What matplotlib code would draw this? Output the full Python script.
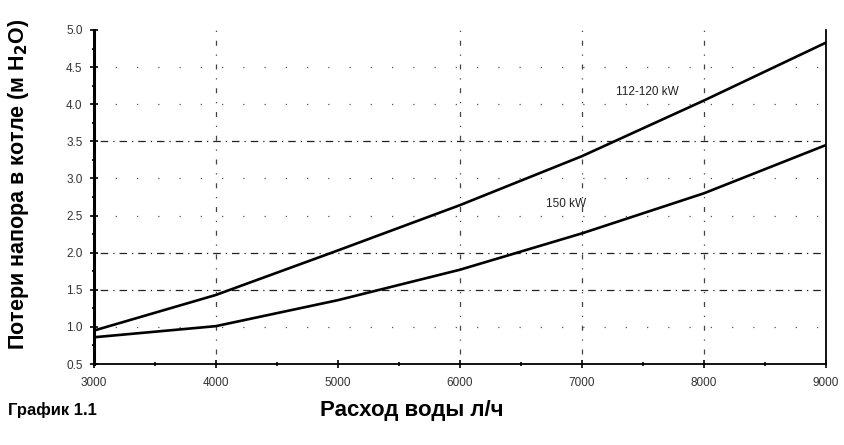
import matplotlib
matplotlib.use("Agg")
import matplotlib.pyplot as plt
import numpy as np

plt.rcParams['font.family'] = ['Liberation Sans', 'DejaVu Sans']

flow = [3000, 4000, 5000, 6000, 7000, 8000, 9000]
loss_112_120 = [0.95, 1.43, 2.03, 2.64, 3.30, 4.05, 4.83]
loss_150 = [0.86, 1.01, 1.36, 1.77, 2.26, 2.80, 3.45]
x_ticks = [3000, 4000, 5000, 6000, 7000, 8000, 9000]
y_ticks = [0.5, 1.0, 1.5, 2.0, 2.5, 3.0, 3.5, 4.0, 4.5, 5.0]
label_112 = "112-120 kW"
label_150 = "150 kW"

fig = plt.figure(figsize=(8.45, 4.45), dpi=100)
ax = fig.add_axes([0.111, 0.182, 0.8665, 0.7506])

# sparse dash-dot grid like the scanned original
for y in [1.5, 2.0, 3.5]:
    ax.axhline(y, color='#222222', lw=0.9, ls=(0, (1, 4, 6, 4)), zorder=1)
for y in [1.0, 2.5, 3.0, 4.0, 4.5]:
    ax.axhline(y, color='#555555', lw=0.9, ls=(0, (1, 16)), zorder=1)
for x in [4000, 6000, 7000, 8000]:
    ax.axvline(x, color='#444444', lw=0.9, ls=(0, (1, 7, 4, 7)), zorder=1)

xs = np.array(flow, dtype=float)
ax.plot(xs, loss_112_120, color='black', lw=1.9, zorder=3)
ax.plot(xs, loss_150, color='black', lw=1.9, zorder=3)

ax.text(7540, 4.17, label_112, fontsize=8.5, color='#222222', ha='center', va='center')
ax.text(6870, 2.66, label_150, fontsize=8.5, color='#222222', ha='center', va='center')

ax.set_xlim(3000, 9000)
ax.set_ylim(0.5, 5.0)
ax.set_xticks(x_ticks)
ax.set_xticklabels([str(v) for v in x_ticks])
ax.set_yticks(y_ticks)
ax.set_yticklabels([f"{v:.1f}" for v in y_ticks])
ax.set_xticks(np.arange(3500, 9000, 1000), minor=True)
ax.set_yticks(np.arange(0.75, 5.0, 0.5), minor=True)

ax.tick_params(axis='both', which='major', direction='inout', length=6, width=1.2,
               labelsize=8.5, colors='black')
ax.tick_params(axis='both', which='minor', direction='inout', length=3, width=1.2)
ax.tick_params(axis='y', pad=5)
ax.tick_params(axis='x', pad=6)
for lab in ax.get_yticklabels() + ax.get_xticklabels():
    lab.set_color('#333333')

ax.spines['top'].set_visible(False)
ax.spines['left'].set_linewidth(2.2)
ax.spines['bottom'].set_linewidth(1.3)
ax.spines['right'].set_linewidth(1.3)

fig.text(0.022, 0.585, r"Потери напора в котле (м H$_{\mathbf{2}}$O)", rotation=90,
         fontsize=15.5, fontweight='bold', ha='center', va='center')
fig.text(0.487, 0.078, "Расход воды л/ч", fontsize=16, fontweight='bold',
         ha='center', va='center')
fig.text(0.009, 0.078, "График 1.1", fontsize=12, fontweight='bold',
         ha='left', va='center')

fig.savefig("out.png", dpi=100)
